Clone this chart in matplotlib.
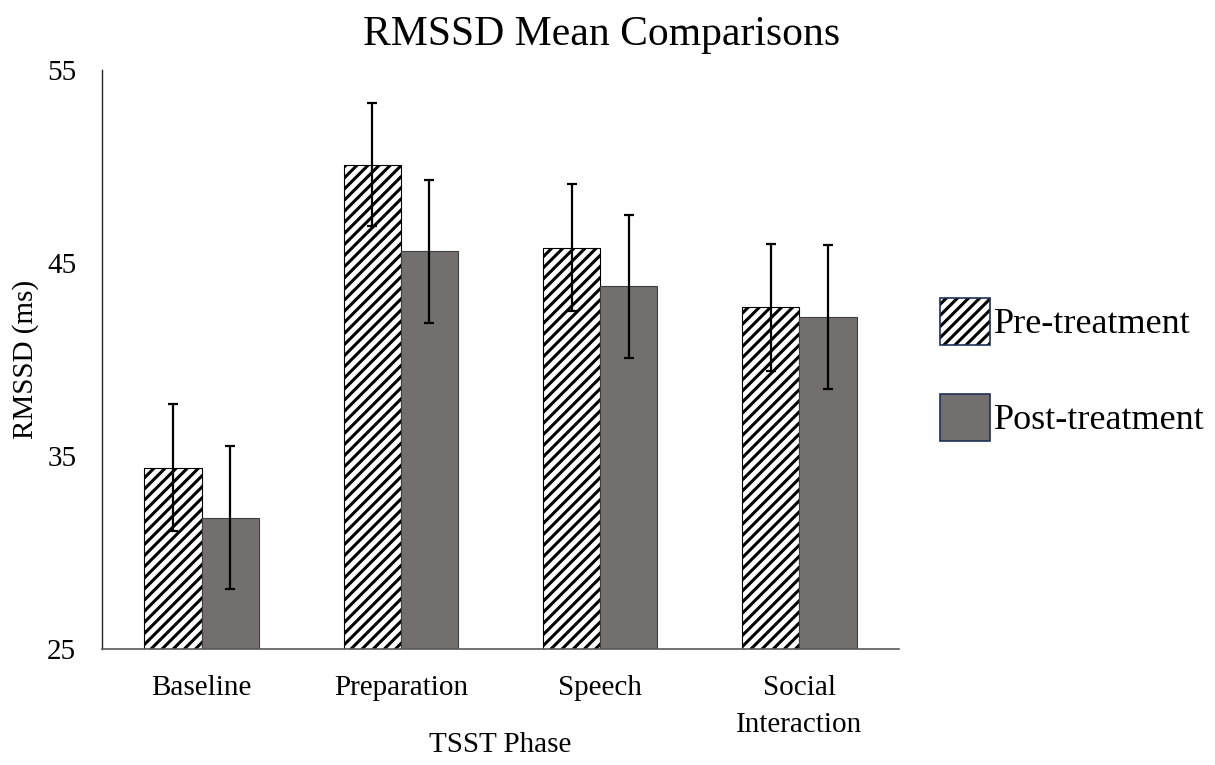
import matplotlib.colors as mcolors
import matplotlib.pyplot as plt
import numpy as np

phases = ["Baseline", "Preparation", "Speech", "Social\nInteraction"]
pre_mean = [34.4, 50.1, 45.8, 42.7]
post_mean = [31.8, 45.6, 43.8, 42.2]
pre_err = [3.3, 3.2, 3.3, 3.3]
post_err = [3.7, 3.7, 3.7, 3.75]
y_ticks = [25, 35, 45, 55]


def main() -> None:
    plt.rcParams.update(
        {
            "font.family": ["Liberation Serif", "DejaVu Serif"],
            "hatch.linewidth": 2.2,
            "hatch.color": "black",
        }
    )

    fig = plt.figure(figsize=(12.15, 7.65), dpi=100)
    ax = fig.add_axes([102 / 1215, 1 - 649 / 765, 797 / 1215, 579 / 765])

    x = np.arange(len(phases))
    width = 0.287

    ax.bar(x - width / 2, pre_mean, width, color="white",
           edgecolor="black", linewidth=0.8, hatch="///", label="Pre-treatment")
    ax.bar(x + width / 2, post_mean, width, color="#736f6e",
           edgecolor="#3f3f3f", linewidth=0.8, label="Post-treatment")

    err_style = dict(fmt="none", ecolor="black", elinewidth=1.6,
                     capsize=3.8, capthick=1.6, zorder=5)
    ax.errorbar(x - width / 2, pre_mean, yerr=pre_err, **err_style)
    ax.errorbar(x + width / 2, post_mean, yerr=post_err, **err_style)

    ax.set_xlim(-0.5, 3.5)
    ax.set_ylim(25, 55)
    ax.set_yticks(y_ticks)
    ax.set_xticks(x)
    ax.set_xticklabels(phases, fontsize=21, linespacing=1.55)
    ax.tick_params(axis="y", length=0, pad=18.5, labelsize=21)
    ax.tick_params(axis="x", length=0, pad=19)

    ax.spines["top"].set_visible(False)
    ax.spines["right"].set_visible(False)
    ax.spines["left"].set_color("#262626")
    ax.spines["bottom"].set_color("#595959")
    ax.spines["left"].set_linewidth(1.0)
    ax.spines["bottom"].set_linewidth(1.2)

    ax.set_ylabel("RMSSD (ms)", fontsize=21, labelpad=6)
    ax.set_xlabel("TSST Phase", fontsize=21, va="center")
    ax.xaxis.set_label_coords(0.5, (649 - 745) / 579)
    fig.text(0.495, 0.955, "RMSSD Mean Comparisons", fontsize=30,
             ha="center", va="center")

    handles, labels = ax.get_legend_handles_labels()
    leg = fig.legend(handles, labels, loc="center left",
                     bbox_to_anchor=(940 / 1215, 1 - 369.5 / 765),
                     frameon=False, fontsize=26, handlelength=1.38,
                     handleheight=1.6, handletextpad=0.12, labelspacing=1.38,
                     borderpad=0, borderaxespad=0)
    for h in leg.legend_handles:
        h.set_edgecolor("#1f3057")
        h.set_linewidth(1.2)
        # keep the stripes black while the frame goes navy
        h._hatch_color = mcolors.to_rgba("black")

    fig.savefig("out.png", dpi=100)
    plt.close(fig)


if __name__ == "__main__":
    main()
